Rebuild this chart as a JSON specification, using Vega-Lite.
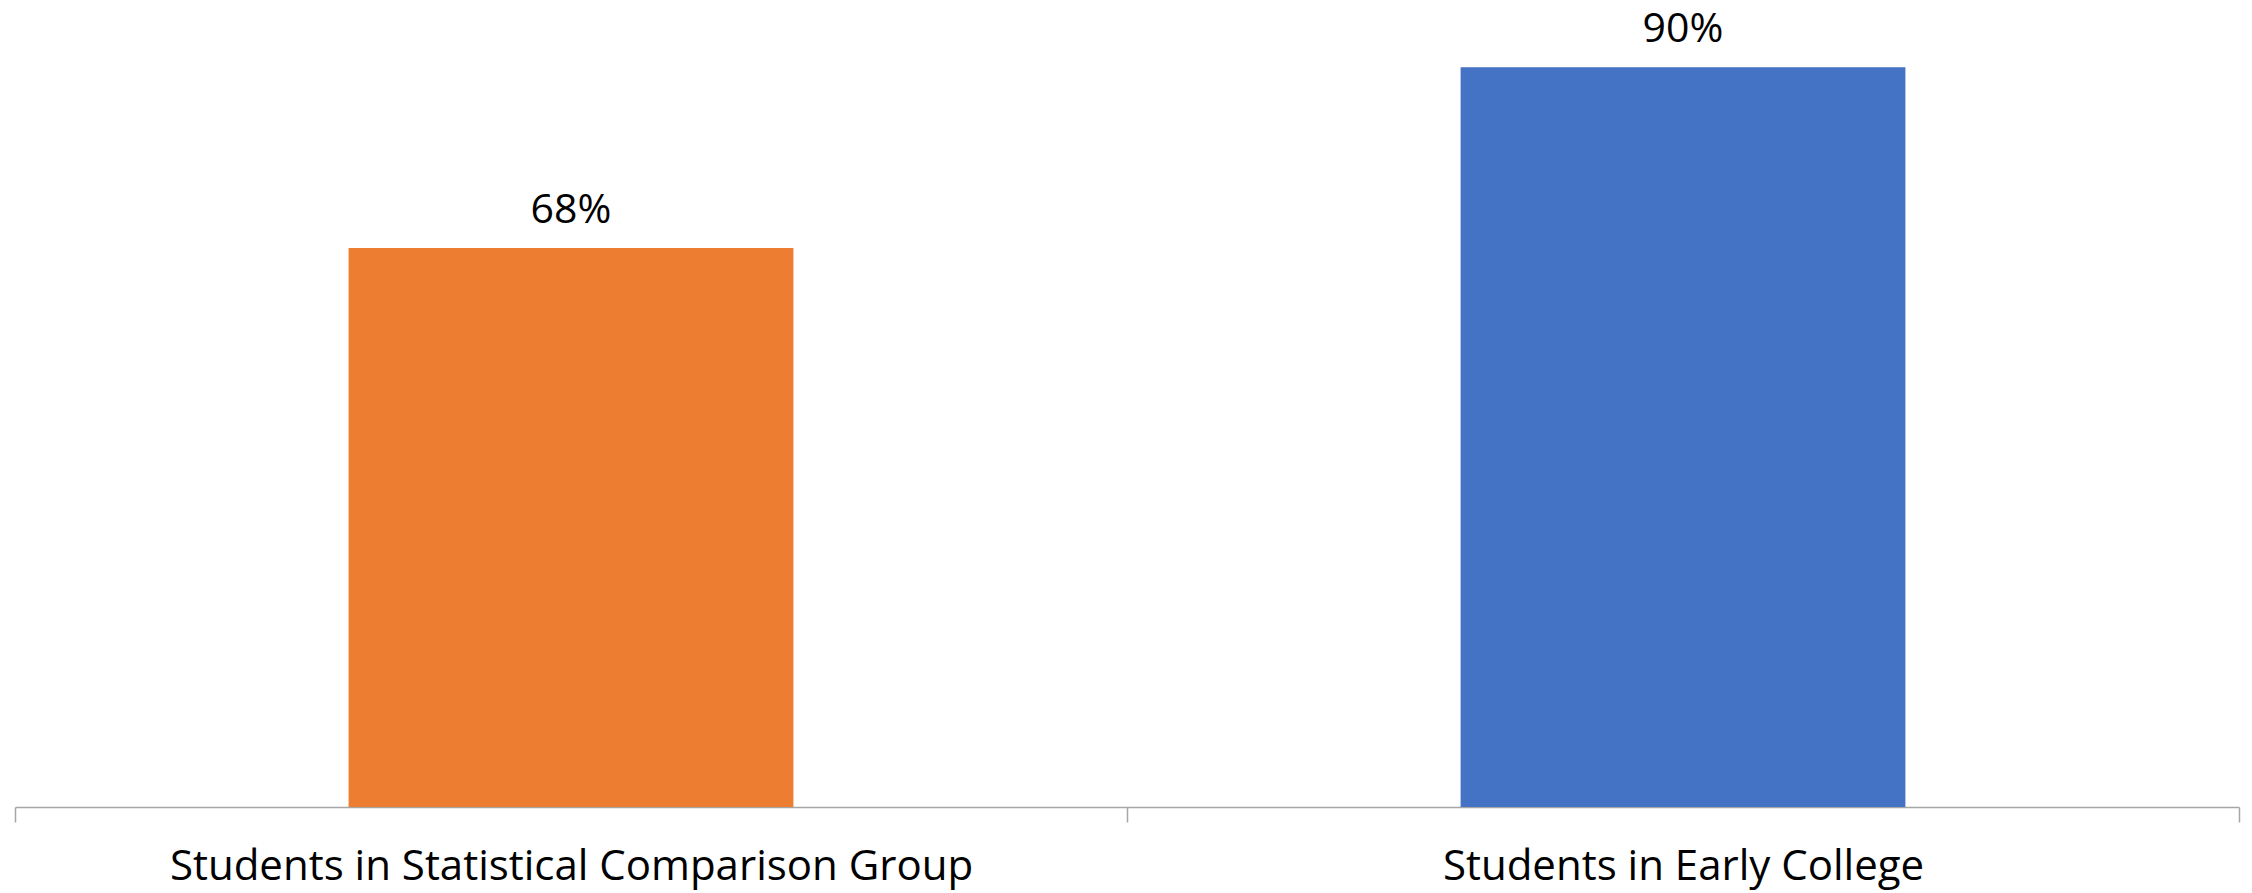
{
  "$schema": "https://vega.github.io/schema/vega-lite/v6.json",
  "autosize": {"type": "none"},
  "width": 2224,
  "height": 807,
  "padding": {"left": 15, "top": 0, "right": 13, "bottom": 86},
  "background": "white",
  "config": {"view": {"stroke": null}},
  "data": {"values": [
    {"group": "Students in Statistical Comparison Group", "rate": 0.68, "series": "comparison"},
    {"group": "Students in Early College", "rate": 0.90, "series": "early"}
  ]},
  "encoding": {
    "x": {"field": "group", "type": "nominal", "sort": null,
      "scale": {"paddingInner": 0, "paddingOuter": 0},
      "axis": {"title": null, "labelAngle": 0, "tickBand": "extent", "tickSize": 15, "tickColor": "#a6a6a6", "tickWidth": 1.5,
        "domainColor": "#a6a6a6", "domainWidth": 1.5, "labelFont": "Open Sans", "labelFontSize": 42, "labelColor": "#000000",
        "labelBaseline": "alphabetic", "labelPadding": 57, "labelLimit": 0}},
    "y": {"field": "rate", "type": "quantitative", "scale": {"domain": [0, 0.9817], "nice": false, "zero": true}, "axis": null}
  },
  "layer": [
    {"mark": {"type": "bar", "width": {"band": 0.4}},
     "encoding": {"color": {"field": "series", "type": "nominal", "scale": {"domain": ["comparison", "early"], "range": ["#ED7D31", "#4472C4"]}, "legend": null}}},
    {"mark": {"type": "text", "baseline": "alphabetic", "dy": -25, "font": "Open Sans", "fontSize": 41, "color": "#000000"},
     "encoding": {"text": {"field": "rate", "type": "quantitative", "format": ".0%"}}}
  ]
}
